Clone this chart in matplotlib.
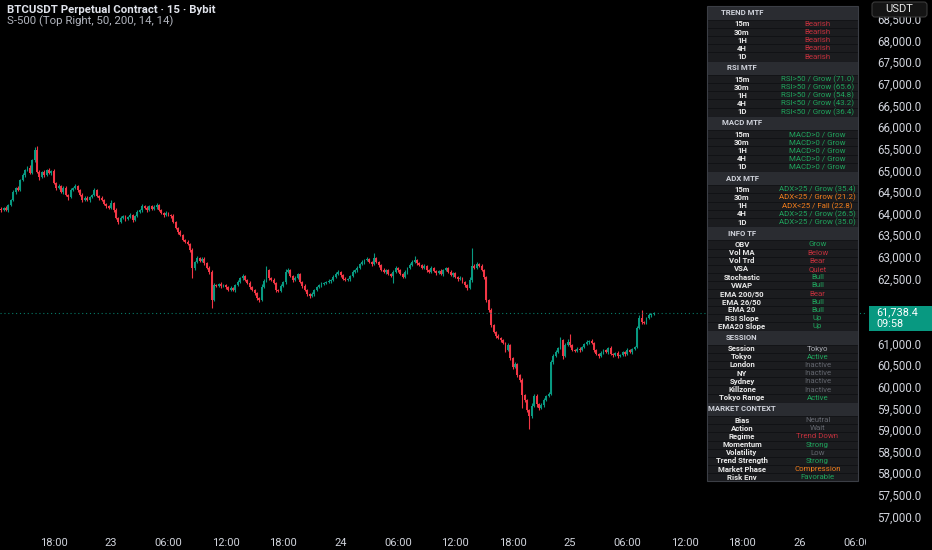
import matplotlib
matplotlib.use("Agg")
import matplotlib.pyplot as plt
from matplotlib.patches import Rectangle, FancyBboxPatch

plt.rcParams['font.family'] = ['Roboto', 'DejaVu Sans']

# 15m candles (open of each = previous close)
first_open = 64150
closes = [
    64120, 64160, 64120, 64230, 64350, 64530, 64630, 64580, 64810, 64930,
    65040, 65090, 64970, 65270, 65500, 65000, 64880, 65000, 64930, 65040,
    64970, 65020, 64740, 64630, 64670, 64530, 64630, 64460, 64420, 64580,
    64630, 64670, 64580, 64460, 64350, 64400, 64350, 64420, 64460, 64580,
    64440, 64400, 64350, 64260, 64210, 64160, 64280, 64120, 63930, 63840,
    63930, 63980, 63910, 63960, 64000, 63890, 63980, 64070, 64120, 64210,
    64160, 64120, 64210, 64140, 64190, 64230, 64120, 64050, 64000, 64050,
    64000, 63980, 63840, 63700, 63610, 63540, 63430, 63380, 63330, 63190,
    62780, 62920, 63010, 62940, 62990, 62890, 62780, 62690, 62040, 62380,
    62360, 62410, 62360, 62380, 62340, 62270, 62320, 62270, 62380, 62450,
    62550, 62590, 62500, 62430, 62340, 62270, 62200, 62080, 62040, 62340,
    62480, 62730, 62550, 62500, 62430, 62270, 62250, 62360, 62450, 62690,
    62730, 62590, 62500, 62550, 62640, 62450, 62360, 62270, 62180, 62130,
    62180, 62270, 62340, 62380, 62410, 62430, 62450, 62480, 62500, 62570,
    62640, 62690, 62620, 62520, 62500, 62520, 62590, 62690, 62730, 62780,
    62870, 62920, 62960, 62990, 62920, 62870, 63010, 62920, 62850, 62730,
    62690, 62730, 62640, 62590, 62690, 62780, 62730, 62640, 62570, 62690,
    62780, 62850, 62920, 62960, 62890, 62850, 62780, 62820, 62730, 62690,
    62780, 62710, 62660, 62710, 62640, 62730, 62780, 62690, 62620, 62660,
    62570, 62520, 62550, 62450, 62380, 62320, 62500, 62820, 62780, 62870,
    62820, 62730, 62570, 62040, 61810, 61460, 61300, 61210, 61160, 61110,
    61040, 60880, 61000, 60700, 60490, 60560, 60300, 60190, 59840, 59730,
    59500, 59360, 59590, 59820, 59630, 59540, 59610, 59730, 59820, 59870,
    60600, 60740, 60840, 60930, 61110, 60740, 61000, 61070, 61000, 60880,
    60860, 60910, 60880, 60950, 61020, 61070, 61090, 61040, 60880, 60790,
    60740, 60810, 60880, 60840, 60930, 60790, 60770, 60810, 60740, 60770,
    60840, 60790, 60880, 60840, 60910, 60950, 61390, 61620, 61530, 61510,
    61620, 61690, 61710, 61738.4,
]
# wick length above the body / below the body
up_wick = [
    30, 20, 40, 30, 20, 40, 30, 50, 30, 40,
    30, 40, 60, 30, 70, 90, 40, 30, 40, 30,
    40, 30, 50, 30, 40, 30, 50, 40, 30, 40,
    30, 40, 30, 20, 40, 30, 40, 30, 20, 40,
    30, 20, 40, 30, 20, 30, 60, 30, 40, 30,
    40, 30, 20, 30, 40, 30, 20, 40, 30, 50,
    30, 40, 30, 20, 40, 50, 30, 20, 30, 40,
    20, 30, 40, 20, 30, 40, 30, 20, 40, 30,
    40, 30, 50, 30, 40, 30, 20, 40, 30, 50,
    20, 30, 40, 30, 20, 30, 40, 20, 30, 40,
    30, 40, 20, 30, 40, 20, 30, 20, 30, 60,
    40, 90, 30, 20, 40, 30, 20, 40, 30, 60,
    50, 30, 20, 40, 30, 20, 30, 40, 20, 30,
    40, 30, 20, 30, 40, 20, 30, 40, 30, 50,
    40, 30, 20, 30, 40, 30, 20, 40, 30, 40,
    30, 40, 30, 50, 20, 30, 120, 30, 20, 30,
    40, 30, 20, 30, 40, 50, 30, 20, 30, 40,
    30, 40, 50, 100, 30, 20, 30, 40, 20, 30,
    40, 30, 20, 30, 40, 30, 20, 30, 40, 30,
    20, 30, 40, 30, 20, 30, 60, 420, 40, 50,
    30, 40, 30, 20, 30, 40, 30, 20, 40, 30,
    30, 20, 40, 30, 20, 50, 30, 20, 40, 30,
    20, 30, 60, 50, 40, 30, 50, 40, 30, 40,
    60, 50, 40, 30, 70, 30, 40, 60, 180, 30,
    20, 30, 40, 30, 20, 40, 30, 40, 20, 30,
    30, 40, 30, 20, 30, 40, 20, 30, 40, 30,
    30, 20, 40, 30, 20, 30, 40, 60, 190, 30,
    30, 40, 20, 30,
]
dn_wick = [
    40, 30, 20, 40, 30, 20, 40, 30, 20, 30,
    40, 30, 20, 30, 40, 30, 60, 30, 40, 20,
    30, 40, 30, 40, 20, 30, 40, 30, 60, 20,
    30, 20, 40, 30, 40, 30, 20, 40, 30, 20,
    30, 40, 30, 20, 40, 30, 20, 40, 30, 50,
    30, 20, 40, 30, 20, 40, 30, 20, 30, 40,
    20, 40, 30, 20, 30, 40, 20, 30, 40, 30,
    30, 40, 20, 30, 40, 30, 40, 20, 30, 40,
    230, 40, 30, 20, 30, 40, 30, 40, 190, 30,
    30, 20, 40, 30, 40, 30, 20, 30, 40, 20,
    30, 40, 30, 20, 40, 30, 50, 40, 40, 30,
    30, 20, 40, 30, 20, 40, 30, 20, 30, 40,
    20, 30, 40, 30, 20, 30, 40, 30, 40, 50,
    30, 40, 20, 30, 40, 30, 20, 30, 40, 30,
    30, 20, 40, 30, 20, 30, 40, 20, 30, 40,
    20, 30, 40, 30, 20, 40, 30, 20, 40, 30,
    30, 40, 30, 20, 160, 30, 40, 30, 20, 30,
    40, 30, 20, 30, 40, 30, 20, 30, 40, 30,
    20, 30, 40, 30, 20, 40, 30, 20, 30, 40,
    30, 40, 20, 30, 40, 60, 30, 40, 30, 20,
    30, 20, 40, 60, 50, 40, 30, 60, 30, 40,
    30, 40, 30, 60, 40, 30, 50, 40, 300, 40,
    50, 310, 40, 30, 60, 40, 30, 40, 30, 20,
    30, 40, 30, 20, 30, 60, 30, 20, 40, 30,
    20, 30, 40, 30, 20, 30, 40, 30, 40, 30,
    40, 30, 20, 30, 40, 30, 50, 30, 40, 30,
    30, 40, 20, 30, 40, 30, 20, 30, 40, 30,
    20, 30, 40, 20,
]

time_labels = ["18:00", "23", "06:00", "12:00", "18:00", "24", "06:00", "12:00",
               "18:00", "25", "06:00", "12:00", "18:00", "26", "06:00"]
first_tick = 22          # candle index of the first time label (22 Jan 18:00)
tick_step = 24           # 6 hours of 15m candles
price_ticks = [57000, 57500, 58000, 58500, 59000, 59500, 60000, 60500, 61000, 61500,
               62000, 62500, 63000, 63500, 64000, 64500, 65000, 65500, 66000, 66500,
               67000, 67500, 68000, 68500]
countdown = "09:58"

RED = '#c0303c'
GREEN = '#1fa35c'
ORANGE = '#f07c1b'
GRAY = '#62656d'
LGRAY = '#a9acb3'

tf_rows = ["15m", "30m", "1H", "4H", "1D"]
trend_vals = ["Bearish", "Bearish", "Bearish", "Bearish", "Bearish"]
trend_cols = [RED, RED, RED, RED, RED]
rsi_vals = ["RSI>50 / Grow (71.0)", "RSI>50 / Grow (65.6)", "RSI>50 / Grow (54.8)",
            "RSI<50 / Grow (43.2)", "RSI<50 / Grow (36.4)"]
rsi_cols = [GREEN, GREEN, GREEN, GREEN, GREEN]
macd_vals = ["MACD>0 / Grow", "MACD>0 / Grow", "MACD>0 / Grow", "MACD>0 / Grow", "MACD>0 / Grow"]
macd_cols = [GREEN, GREEN, GREEN, GREEN, GREEN]
adx_vals = ["ADX>25 / Grow (35.4)", "ADX<25 / Grow (21.2)", "ADX<25 / Fall (22.8)",
            "ADX>25 / Grow (26.5)", "ADX>25 / Grow (35.0)"]
adx_cols = [GREEN, ORANGE, ORANGE, GREEN, GREEN]
info_rows = ["OBV", "Vol MA", "Vol Trd", "VSA", "Stochastic", "VWAP", "EMA 200/50",
             "EMA 26/50", "EMA 20", "RSI Slope", "EMA20 Slope"]
info_vals = ["Grow", "Below", "Bear", "Quiet", "Bull", "Bull", "Bear", "Bull", "Bull", "Up", "Up"]
info_cols = [GREEN, RED, RED, RED, GREEN, GREEN, RED, GREEN, GREEN, GREEN, GREEN]
sess_rows = ["Session", "Tokyo", "London", "NY", "Sydney", "Killzone", "Tokyo Range"]
sess_vals = ["Tokyo", "Active", "Inactive", "Inactive", "Inactive", "Inactive", "Active"]
sess_cols = [LGRAY, GREEN, GRAY, GRAY, GRAY, GRAY, GREEN]
ctx_rows = ["Bias", "Action", "Regime", "Momentum", "Volatility", "Trend Strength",
            "Market Phase", "Risk Env"]
ctx_vals = ["Neutral", "Wait", "Trend Down", "Strong", "Low", "Strong", "Compression", "Favorable"]
ctx_cols = [GRAY, GRAY, RED, GREEN, GRAY, GREEN, ORANGE, GREEN]

sections = [
    ("TREND MTF", tf_rows, trend_vals, trend_cols),
    ("RSI MTF", tf_rows, rsi_vals, rsi_cols),
    ("MACD MTF", tf_rows, macd_vals, macd_cols),
    ("ADX MTF", tf_rows, adx_vals, adx_cols),
    ("INFO TF", info_rows, info_vals, info_cols),
    ("SESSION", sess_rows, sess_vals, sess_cols),
    ("MARKET CONTEXT", ctx_rows, ctx_vals, ctx_cols),
]

W, H = 932, 550
PX = 23.11        # price per pixel
Y0 = 68970.6      # price at the top edge
CHART_R = 866     # price scale starts here
CANDLE_PX = 2.39

fig = plt.figure(figsize=(W / 100, H / 100), dpi=100, facecolor='black')

# main chart
ax = fig.add_axes([0, 25 / H, CHART_R / W, 525 / H])
ax.set_facecolor('black')
ax.set_ylim(Y0 - 525 * PX, Y0)
ax.set_xlim(-0.5, (CHART_R - 1.2) / CANDLE_PX)

opens = [first_open] + closes[:-1]
idx = list(range(len(closes)))
cols = ['#089981' if c >= o else '#f23645' for o, c in zip(opens, closes)]
highs = [max(o, c) + u for o, c, u in zip(opens, closes, up_wick)]
lows = [min(o, c) - d for o, c, d in zip(opens, closes, dn_wick)]
ax.vlines(idx, lows, highs, colors=cols, linewidth=0.8)
ax.bar(idx, [c - o for o, c in zip(opens, closes)], bottom=opens, width=0.8,
       color=cols, linewidth=0)
ax.axhline(closes[-1], color='#089981', lw=0.8, ls=(0, (1, 2.5)), alpha=0.8)

ax.set_xticks(range(first_tick, first_tick + tick_step * len(time_labels), tick_step))
ax.set_xticklabels(time_labels)
ax.tick_params(axis='x', length=0, colors='#d1d4dc', labelsize=8, pad=9)
ax.set_yticks([])
for s in ax.spines.values():
    s.set_visible(False)

# price scale
ax2 = fig.add_axes([CHART_R / W, 0, 1 - CHART_R / W, 1])
ax2.set_zorder(2)
ax2.set_facecolor('black')
ax2.set_xlim(0, 1)
ax2.set_ylim(Y0 - H * PX, Y0)
ax2.set_xticks([])
ax2.set_yticks([])
for s in ax2.spines.values():
    s.set_visible(False)

last = closes[-1]
box_lo, box_hi = last - 18 * PX, last + 7 * PX
for p in price_ticks:
    if box_lo - 5 * PX < p < box_hi + 5 * PX:
        continue  # hidden behind the last-price tag
    ax2.text(0.167, p, f"{p:,.1f}", va='center', ha='left', color='#d1d4dc', fontsize=8.3)

ax2.add_patch(Rectangle((3 / 66, box_lo), 1, box_hi - box_lo, color='#089981', lw=0, zorder=4))
ax2.text(0.16, last + 0.7 * PX, f"{last:,.1f}", va='center', ha='left', color='white',
         fontsize=7.8, zorder=5)
ax2.text(0.16, last - 10.6 * PX, countdown, va='center', ha='left', color='white',
         fontsize=7.8, zorder=5)

# overlay in pixel coordinates: legend text, currency button, info table
ax3 = fig.add_axes([0, 0, 1, 1])
ax3.set_zorder(3)
ax3.set_xlim(0, W)
ax3.set_ylim(H, 0)
ax3.axis('off')

ax3.add_patch(FancyBboxPatch((872, 2), 55, 15, boxstyle='round,pad=0,rounding_size=3',
                             fc='#141414', ec='#3a3a3a', lw=0.8))
ax3.text(899.5, 9.5, "USDT", ha='center', va='center', color='#e6e6e6', fontsize=8)

ax3.text(7, 10, "BTCUSDT Perpetual Contract · 15 · Bybit", ha='left', va='center',
         color='#e0e3eb', fontsize=8.2, fontweight='bold')
ax3.text(7, 21, "S-500 (Top Right, 50, 200, 14, 14)", ha='left', va='center',
         color='#b2b5be', fontsize=8.2)

tx, tw = 707, 151
hdr_h, row_h = 14.3, 8.17
lab_x, val_x = 742, 817.5
y = 5.5
for title, labels, vals, vcols in sections:
    ax3.add_patch(Rectangle((tx, y), tw, hdr_h, fc='#2a2c31', ec='#1a1b1e', lw=0.4))
    ax3.text(lab_x, y + hdr_h / 2, title, ha='center', va='center', color='#d1d4dc',
             fontsize=5.6, fontweight='bold')
    y += hdr_h
    for lab, val, vc in zip(labels, vals, vcols):
        ax3.add_patch(Rectangle((tx, y), tw, row_h, fc='#1b1c1f', ec='#101113', lw=0.4))
        ax3.text(lab_x, y + row_h / 2, lab, ha='center', va='center', color='#e8e8e8',
                 fontsize=5.6, fontweight='bold')
        ax3.text(val_x, y + row_h / 2, val, ha='center', va='center', color=vc, fontsize=5.7)
        y += row_h
ax3.add_patch(Rectangle((tx, 5.5), tw, y - 5.5, fill=False, ec='#3b3e45', lw=0.8))

fig.savefig('out.png', dpi=100, facecolor='black')
